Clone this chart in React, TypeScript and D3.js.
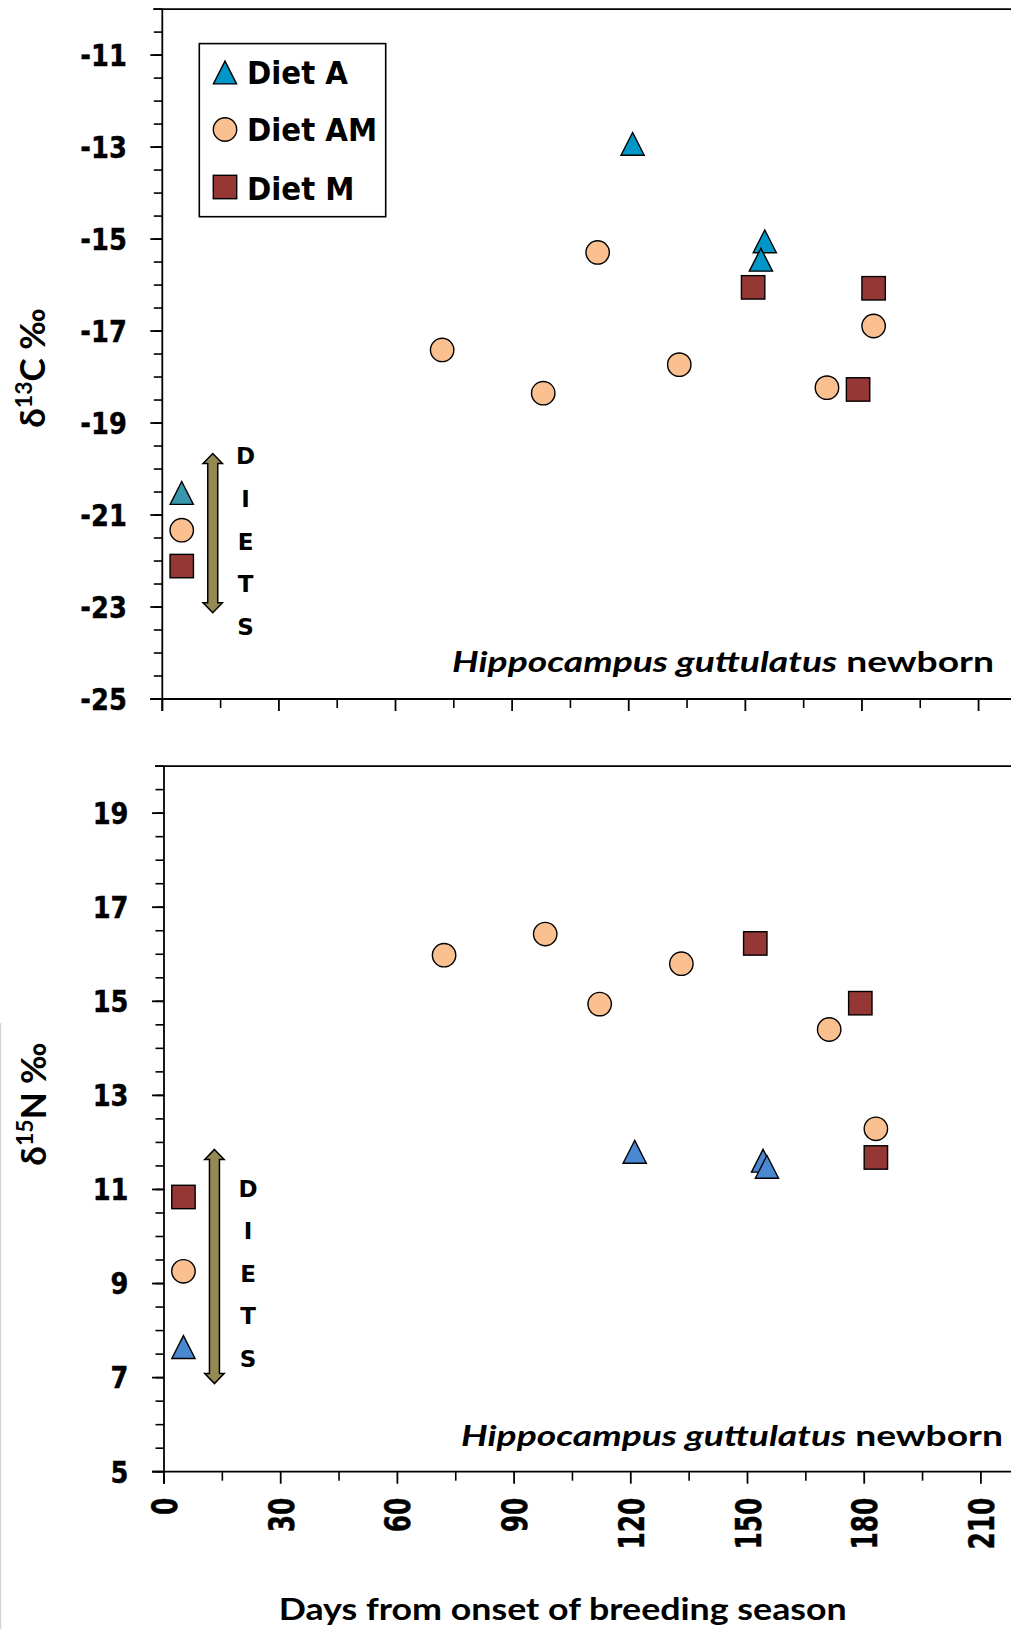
import React from 'react';
import * as d3 from 'd3';

// ---------- DATA ----------
const dayTicks = [0, 30, 60, 90, 120, 150, 180, 210];
const c13Ticks = [-25, -23, -21, -19, -17, -15, -13, -11];
const n15Ticks = [5, 7, 9, 11, 13, 15, 17, 19];

// δ13C (top panel)
const c13DietA = [
  { day: 121, v: -12.93 },
  { day: 155, v: -15.05 },
  { day: 154, v: -15.45 },
];
const c13DietAM = [
  { day: 72, v: -17.41 },
  { day: 98, v: -18.35 },
  { day: 112, v: -15.29 },
  { day: 133, v: -17.73 },
  { day: 171, v: -18.23 },
  { day: 183, v: -16.89 },
];
const c13DietM = [
  { day: 152, v: -16.05 },
  { day: 183, v: -16.07 },
  { day: 179, v: -18.27 },
];
const c13Foods = [
  { diet: 'A', day: 5, v: -20.52 },
  { diet: 'AM', day: 5, v: -21.33 },
  { diet: 'M', day: 5, v: -22.11 },
];

// δ15N (bottom panel)
const n15DietA = [
  { day: 121, v: 11.8 },
  { day: 154, v: 11.61 },
  { day: 155, v: 11.48 },
];
const n15DietAM = [
  { day: 72, v: 15.98 },
  { day: 98, v: 16.43 },
  { day: 112, v: 14.94 },
  { day: 133, v: 15.8 },
  { day: 171, v: 14.4 },
  { day: 183, v: 12.29 },
];
const n15DietM = [
  { day: 152, v: 16.23 },
  { day: 179, v: 14.96 },
  { day: 183, v: 11.68 },
];
const n15Foods = [
  { diet: 'M', day: 5, v: 10.84 },
  { diet: 'AM', day: 5, v: 9.26 },
  { diet: 'A', day: 5, v: 7.65 },
];

const legendItems = ['Diet A', 'Diet AM', 'Diet M'];
const dietsLetters = ['D', 'I', 'E', 'T', 'S'];

// ---------- STYLE ----------
const COL_CIRCLE = '#FAC090';
const COL_SQUARE = '#953735';
const COL_ARROW = '#948A54';
const TICK_FONT = '"DejaVu Sans", Verdana, sans-serif';
const TITLE_FONT = 'Lato, "Open Sans", sans-serif';

const W = 1011;
const H = 1629;

type Pt = { day: number; v: number };

function Circle({ x, y }: { x: number; y: number }) {
  return <circle cx={x} cy={y} r={11.7} fill={COL_CIRCLE} stroke="#000" strokeWidth={1.4} />;
}
function Square({ x, y }: { x: number; y: number }) {
  const s = 23.4;
  return <rect x={x - s / 2} y={y - s / 2} width={s} height={s} fill={COL_SQUARE} stroke="#000" strokeWidth={1.4} />;
}
function Tri({ x, y, fill }: { x: number; y: number; fill: string }) {
  const w = 11.6;
  const h = 11.4;
  return (
    <path
      d={`M${x},${y - h} L${x + w},${y + h} L${x - w},${y + h} Z`}
      fill={fill}
      stroke="#000"
      strokeWidth={1.4}
      strokeLinejoin="miter"
    />
  );
}

type PanelProps = {
  x: d3.ScaleLinear<number, number>;
  y: d3.ScaleLinear<number, number>;
  yTicks: number[];
  yMin: number;
  yMax: number;
  xMax: number;
  dietA: Pt[];
  dietAM: Pt[];
  dietM: Pt[];
  foods: { diet: string; day: number; v: number }[];
  triColor: string;
  foodTriColor: string;
  showXLabels: boolean;
  yTitleNum: string;
  yTitleEl: string;
  yTitleX: number;
  yTitleY: number;
  speciesX: number;
  speciesY: number;
  arrowTop: number;
  arrowBottom: number;
  letterTop: number;
  letterX: number;
  letterStep: number;
};

function Panel(p: PanelProps) {
  const { x, y } = p;
  const x0 = x(0);
  const yBase = y(p.yMin);
  const yTop = y(p.yMax);
  const minorY = d3.range(p.yMin, p.yMax + 0.001, 0.5);
  const minorX = d3.range(15, p.xMax, 30);
  const ax = x(5) + 31; // arrow center
  const arrow = (() => {
    const t = p.arrowTop;
    const b = p.arrowBottom;
    const hw = 9.7;
    const sw = 5;
    const hl = 10;
    return `M${ax},${t} L${ax + hw},${t + hl} L${ax + sw},${t + hl} L${ax + sw},${b - hl} L${ax + hw},${b - hl} L${ax},${b} L${ax - hw},${b - hl} L${ax - sw},${b - hl} L${ax - sw},${t + hl} L${ax - hw},${t + hl} Z`;
  })();
  const foodMarker = (f: { diet: string; day: number; v: number }, i: number) => {
    const fx = x(f.day);
    const fy = y(f.v);
    if (f.diet === 'A') return <Tri key={i} x={fx} y={fy} fill={p.foodTriColor} />;
    if (f.diet === 'AM') return <Circle key={i} x={fx} y={fy} />;
    return <Square key={i} x={fx} y={fy} />;
  };
  return (
    <g>
      {/* frame lines */}
      <line x1={x0 - 9} x2={W} y1={yTop} y2={yTop} stroke="#000" strokeWidth={1.8} />
      <line x1={x0 - 12} x2={W} y1={yBase} y2={yBase} stroke="#000" strokeWidth={1.8} />
      <line x1={x0} x2={x0} y1={yTop} y2={yBase + 12} stroke="#000" strokeWidth={1.8} />
      {/* y minor ticks */}
      {minorY.map((v) => (
        <line key={'ym' + v} x1={x0 - 8.5} x2={x0} y1={y(v)} y2={y(v)} stroke="#000" strokeWidth={1.6} />
      ))}
      {/* y major ticks + labels */}
      {p.yTicks.map((v) => (
        <g key={'yt' + v}>
          <line x1={x0 - 12} x2={x0} y1={y(v)} y2={y(v)} stroke="#000" strokeWidth={1.8} />
          <text
            transform={`translate(${x0 - 35.5},${y(v) + 10.8}) scale(0.87,1)`}
            textAnchor="end"
            fontFamily={TICK_FONT}
            fontWeight="bold"
            fontSize={29.6}
            fill="#000"
            stroke="#000"
            strokeWidth={0.4}
          >
            {v}
          </text>
        </g>
      ))}
      {/* x ticks */}
      {minorX.map((d) => (
        <line key={'xm' + d} x1={x(d)} x2={x(d)} y1={yBase} y2={yBase + 9} stroke="#000" strokeWidth={1.6} />
      ))}
      {dayTicks.map((d) => (
        <g key={'xt' + d}>
          <line x1={x(d)} x2={x(d)} y1={yBase} y2={yBase + 12} stroke="#000" strokeWidth={1.8} />
          {p.showXLabels && (
            <text
              transform={`translate(${x(d) + 13},${yBase + 26}) rotate(-90) scale(0.69,1)`}
              textAnchor="end"
              fontFamily={TICK_FONT}
              fontWeight="bold"
              fontSize={36}
              fill="#000"
              stroke="#000"
              strokeWidth={0.4}
            >
              {d}
            </text>
          )}
        </g>
      ))}
      {/* y title */}
      <text
        transform={`translate(${p.yTitleX},${p.yTitleY}) rotate(-90)`}
        textAnchor="middle"
        fontFamily={TITLE_FONT}
        fontWeight="bold"
        fontSize={35}
        fill="#000"
      >
        δ
        <tspan fontSize={23} dy={-13}>
          {p.yTitleNum}
        </tspan>
        <tspan dy={13}>{p.yTitleEl + ' ‰'}</tspan>
      </text>
      {/* species label */}
      <text
        x={p.speciesX}
        y={p.speciesY}
        fontFamily={TITLE_FONT}
        fontWeight="bold"
        fontSize={29}
        fill="#000"
        textLength={542}
        lengthAdjust="spacingAndGlyphs"
      >
        <tspan fontStyle="italic">Hippocampus guttulatus</tspan>
        <tspan> newborn</tspan>
      </text>
      {/* DIETS arrow */}
      <path d={arrow} fill={COL_ARROW} stroke="#000" strokeWidth={1.5} strokeLinejoin="miter" />
      {dietsLetters.map((l, i) => (
        <text
          key={l}
          x={p.letterX}
          y={p.letterTop + i * p.letterStep + 8.4}
          textAnchor="middle"
          fontFamily={TICK_FONT}
          fontWeight="bold"
          fontSize={23}
          fill="#000"
        >
          {l}
        </text>
      ))}
      {/* food markers */}
      {p.foods.map(foodMarker)}
      {/* series */}
      {p.dietAM.map((d, i) => (
        <Circle key={'am' + i} x={x(d.day)} y={y(d.v)} />
      ))}
      {p.dietM.map((d, i) => (
        <Square key={'m' + i} x={x(d.day)} y={y(d.v)} />
      ))}
      {p.dietA.map((d, i) => (
        <Tri key={'a' + i} x={x(d.day)} y={y(d.v)} fill={p.triColor} />
      ))}
    </g>
  );
}

export default function App() {
  const xMax = 240;
  const xTop = d3.scaleLinear().domain([0, xMax]).range([162.3, 162.3 + xMax * 3.887]);
  const yTopS = d3.scaleLinear().domain([-25, -10]).range([699, 9.1]);
  const xBot = d3.scaleLinear().domain([0, xMax]).range([164, 164 + xMax * 3.89]);
  const yBotS = d3.scaleLinear().domain([5, 20]).range([1471.7, 766.1]);

  const legendYs = [72.5, 129.5, 187];
  const legendBase = [84, 141, 199.7];

  return (
    <svg
      width={W}
      height={H}
      viewBox={`0 0 ${W} ${H}`}
      style={{ position: 'absolute', left: 0, top: 0, background: '#fff' }}
    >
      <rect x={0} y={0} width={W} height={H} fill="#fff" />
      <line x1={0.5} x2={0.5} y1={1023} y2={H} stroke="#d4d4d4" strokeWidth={1.5} />
      <Panel
        x={xTop}
        y={yTopS}
        yTicks={c13Ticks}
        yMin={-25}
        yMax={-10}
        xMax={xMax}
        dietA={c13DietA}
        dietAM={c13DietAM}
        dietM={c13DietM}
        foods={c13Foods}
        triColor="#0096C8"
        foodTriColor="#3A96AC"
        showXLabels={false}
        yTitleNum="13"
        yTitleEl="C"
        yTitleX={45}
        yTitleY={368}
        speciesX={452}
        speciesY={671.7}
        arrowTop={453.5}
        arrowBottom={612.7}
        letterTop={455.5}
        letterX={245.5}
        letterStep={42.8}
      />
      <Panel
        x={xBot}
        y={yBotS}
        yTicks={n15Ticks}
        yMin={5}
        yMax={20}
        xMax={xMax}
        dietA={n15DietA}
        dietAM={n15DietAM}
        dietM={n15DietM}
        foods={n15Foods}
        triColor="#4A88D2"
        foodTriColor="#4A88D2"
        showXLabels={true}
        yTitleNum="15"
        yTitleEl="N"
        yTitleX={45.5}
        yTitleY={1104}
        speciesX={461}
        speciesY={1445.5}
        arrowTop={1149.4}
        arrowBottom={1383.6}
        letterTop={1188.5}
        letterX={248}
        letterStep={42.4}
      />
      {/* legend */}
      <rect x={199.3} y={43.6} width={186.4} height={173.1} fill="#fff" stroke="#000" strokeWidth={1.6} />
      <Tri x={225} y={legendYs[0]} fill="#0096C8" />
      <Circle x={225} y={legendYs[1]} />
      <Square x={225} y={legendYs[2]} />
      {legendItems.map((t, i) => (
        <text
          key={t}
          transform={`translate(247,${legendBase[i]}) scale(0.915,1)`}
          fontFamily={TICK_FONT}
          fontWeight="bold"
          fontSize={32}
          fill="#000"
        >
          {t}
        </text>
      ))}
      {/* x title */}
      <text
        x={562.7}
        y={1620}
        textAnchor="middle"
        fontFamily={TITLE_FONT}
        fontWeight="bold"
        fontSize={31}
        fill="#000"
        textLength={568}
        lengthAdjust="spacingAndGlyphs"
      >
        Days from onset of breeding season
      </text>
    </svg>
  );
}
